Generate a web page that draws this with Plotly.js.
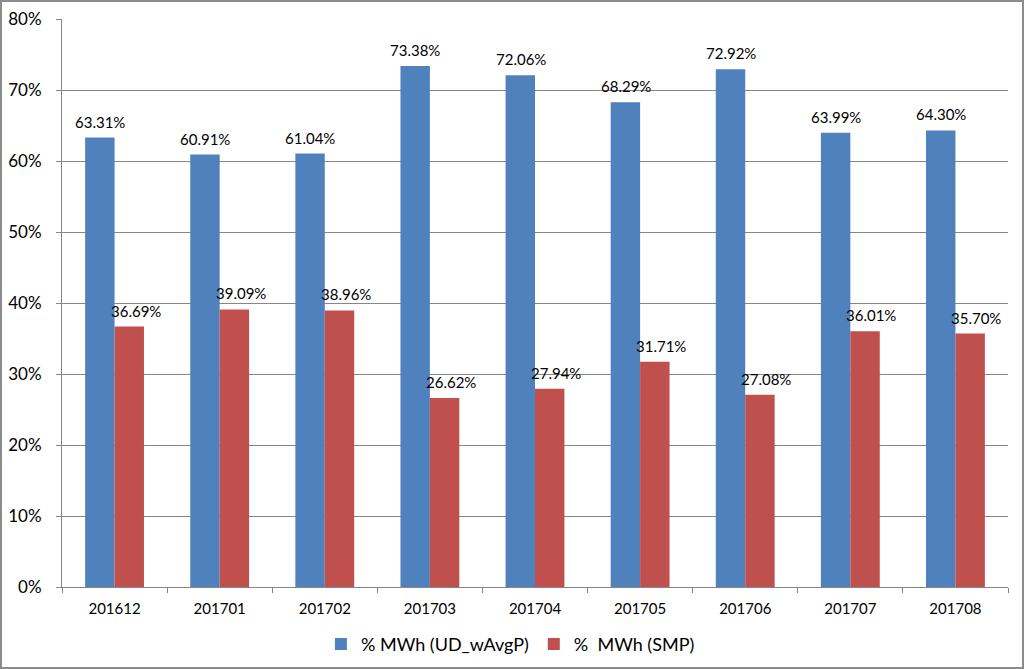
<!DOCTYPE html>
<html>
<head>
<meta charset="utf-8">
<script src="https://cdn.plot.ly/plotly-3.0.1.min.js"></script>
<style>
  body { margin: 0; padding: 0; background: #fff; }
  #wrap { position: relative; width: 1024px; height: 669px; }
  #chart { width: 1024px; height: 669px; }
  #frame { position: absolute; left: 0; top: 0; width: 1024px; height: 669px; box-sizing: border-box; border: 2px solid #8c8c8c; pointer-events: none; }
</style>
</head>
<body>
<div id="wrap">
  <div id="chart"></div>
  <div id="frame"></div>
</div>
<script>
const categories = ["201612", "201701", "201702", "201703", "201704", "201705", "201706", "201707", "201708"];
const udWAvgP = [63.31, 60.91, 61.04, 73.38, 72.06, 68.29, 72.92, 63.99, 64.30];
const smp = [36.69, 39.09, 38.96, 26.62, 27.94, 31.71, 27.08, 36.01, 35.70];
const seriesNames = ["% MWh (UD_wAvgP)", "%  MWh (SMP)"];

const fontFam = "Lato, 'Open Sans', 'Liberation Sans', sans-serif";

const traces = [
  {
    type: "bar", x: categories, y: udWAvgP, name: seriesNames[0],
    marker: { color: "#4F81BD" }, hoverinfo: "y"
  },
  {
    type: "bar", x: categories, y: smp, name: seriesNames[1],
    marker: { color: "#C0504D" }, hoverinfo: "y"
  }
];

// category axis: annotation x given as the category's index position
function labels(vals, xshift) {
  return vals.map((v, i) => ({
    x: i, y: v, xref: "x", yref: "y",
    text: v.toFixed(2) + "%", showarrow: false,
    xanchor: "center", yanchor: "middle", xshift: xshift, yshift: 16,
    font: { family: fontFam, size: 15, color: "#000" }
  }));
}

const layout = {
  width: 1024, height: 669,
  margin: { l: 62, r: 16, t: 19, b: 82, autoexpand: false },
  paper_bgcolor: "#fff", plot_bgcolor: "#fff",
  barmode: "group", bargap: 0.44, bargroupgap: 0,
  font: { family: fontFam, color: "#000" },
  showlegend: true,
  legend: {
    orientation: "h", x: 0.474, xanchor: "center",
    yref: "container", y: 0.037, yanchor: "middle",
    font: { family: fontFam, size: 18, color: "#000" },
    traceorder: "normal"
  },
  annotations: labels(udWAvgP, -14.5).concat(labels(smp, 21)),
  xaxis: {
    type: "category", categoryorder: "array", categoryarray: categories,
    range: [-0.5, categories.length - 0.5], autorange: false,
    showline: true, linecolor: "#868686", linewidth: 1,
    ticks: "outside", tickson: "boundaries", ticklen: 5, tickcolor: "#868686",
    ticklabelstandoff: 8,
    tickfont: { family: fontFam, size: 15, color: "#000" },
    showgrid: false
  },
  yaxis: {
    range: [0, 80], dtick: 10, ticksuffix: "%",
    showline: true, linecolor: "#868686", linewidth: 1,
    ticks: "outside", ticklen: 5, tickcolor: "#868686",
    ticklabelstandoff: 11,
    showgrid: true, gridcolor: "#868686", gridwidth: 1,
    zeroline: false,
    tickfont: { family: fontFam, size: 17, color: "#000" }
  }
};

Plotly.newPlot("chart", traces, layout, { displayModeBar: false, staticPlot: true });
</script>
</body>
</html>
